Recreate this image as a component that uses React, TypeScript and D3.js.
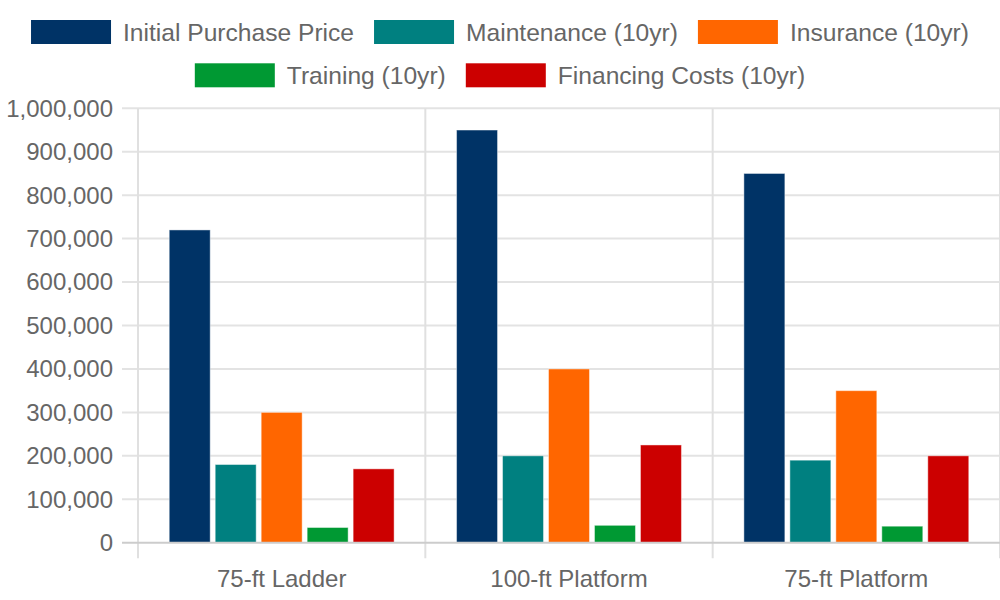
import React from "react";
import * as d3 from "d3";

const categories = ["75-ft Ladder", "100-ft Platform", "75-ft Platform"];
const seriesNames = [
  "Initial Purchase Price",
  "Maintenance (10yr)",
  "Insurance (10yr)",
  "Training (10yr)",
  "Financing Costs (10yr)",
];
const seriesColors = ["#003366", "#008080", "#ff6600", "#009933", "#cc0000"];

const initialPurchase = [720000, 950000, 850000];
const maintenance = [180000, 200000, 190000];
const insurance = [300000, 400000, 350000];
const training = [35000, 40000, 38000];
const financing = [170000, 225000, 200000];

const seriesValues = [initialPurchase, maintenance, insurance, training, financing];
const yTicks = [0, 100000, 200000, 300000, 400000, 500000, 600000, 700000, 800000, 900000, 1000000];
const legendRows = [[0, 1, 2], [3, 4]];

const W = 1000;
const H = 600;
const FONT = "'Liberation Sans', Arial, sans-serif";
const FONT_SIZE = 24;
const LEGEND_FONT_SIZE = 24.6;
const TEXT_COLOR = "#666666";

const margin = { left: 138, right: 0, top: 108.3, bottom: 57.3 };

function measure(text: string, size: number): number {
  const canvas = document.createElement("canvas");
  const ctx = canvas.getContext("2d");
  if (!ctx) return text.length * size * 0.5;
  ctx.font = `${size}px 'Liberation Sans', Arial, sans-serif`;
  return ctx.measureText(text).width;
}

export default function App() {
  const x0 = d3
    .scaleBand<string>()
    .domain(categories)
    .range([margin.left, W - margin.right])
    .paddingInner(0)
    .paddingOuter(0);

  const x1 = d3
    .scaleBand<number>()
    .domain(d3.range(seriesNames.length))
    .range([0, x0.bandwidth()])
    .paddingInner(5 / 46)
    .paddingOuter(0.679);

  const y = d3
    .scaleLinear()
    .domain([0, 1000000])
    .range([H - margin.bottom, margin.top]);

  const fmt = d3.format(",");

  // Legend layout: swatch, gap, label, gap between items; each row centered.
  const swW = 80;
  const swH = 24;
  const swGap = 12;
  const itemGap = 20;
  const rowCenters = [32, 75.3];
  const legendItems: { idx: number; x: number; cy: number }[] = [];
  legendRows.forEach((row, r) => {
    const widths = row.map((i) => swW + swGap + measure(seriesNames[i], LEGEND_FONT_SIZE));
    const total = d3.sum(widths) + itemGap * (row.length - 1);
    let cx = W / 2 - total / 2;
    row.forEach((i, k) => {
      legendItems.push({ idx: i, x: cx, cy: rowCenters[r] });
      cx += widths[k] + itemGap;
    });
  });

  const bottom = y(0);
  const catEdges = [...categories.map((c) => x0(c) as number), W - margin.right];

  return (
    <svg
      width={W}
      height={H}
      style={{ position: "absolute", left: 0, top: 0, display: "block", background: "#fff" }}
      fontFamily={FONT}
    >
      {/* horizontal gridlines with short ticks to the left */}
      {yTicks.map((t) =>
        t === 0 ? null : (
          <line
            key={`g${t}`}
            x1={margin.left - 16}
            x2={W}
            y1={y(t)}
            y2={y(t)}
            stroke="#e3e3e3"
            strokeWidth={2}
          />
        )
      )}
      {/* vertical category separators */}
      {catEdges.map((ex, i) => (
        <line
          key={`v${i}`}
          x1={ex}
          x2={ex}
          y1={y(1000000)}
          y2={bottom + 15.5}
          stroke="#e0e0e0"
          strokeWidth={2}
        />
      ))}
      {/* y tick labels */}
      {yTicks.map((t) => (
        <text
          key={`l${t}`}
          x={113}
          y={y(t)}
          dy="0.35em"
          textAnchor="end"
          fontSize={FONT_SIZE}
          fill={TEXT_COLOR}
        >
          {fmt(t)}
        </text>
      ))}
      {/* bars */}
      {categories.map((c, ci) => (
        <g key={c} transform={`translate(${x0(c)},0)`}>
          {seriesValues.map((vals, si) => (
            <rect
              key={si}
              x={x1(si)}
              y={y(vals[ci])}
              width={x1.bandwidth()}
              height={bottom - y(vals[ci])}
              fill={seriesColors[si]}
              stroke="rgba(255,255,255,0.45)"
              strokeWidth={1}
            />
          ))}
        </g>
      ))}
      {/* baseline */}
      <line
        x1={margin.left - 16}
        x2={W}
        y1={bottom}
        y2={bottom}
        stroke="#cccccc"
        strokeWidth={2}
      />
      {/* category labels */}
      {categories.map((c) => (
        <text
          key={`c${c}`}
          x={(x0(c) as number) + x0.bandwidth() / 2}
          y={587}
          textAnchor="middle"
          fontSize={FONT_SIZE}
          fill={TEXT_COLOR}
        >
          {c}
        </text>
      ))}
      {/* legend */}
      {legendItems.map((it) => (
        <g key={`lg${it.idx}`}>
          <rect
            x={it.x}
            y={it.cy - swH / 2}
            width={swW}
            height={swH}
            fill={seriesColors[it.idx]}
          />
          <text
            x={it.x + swW + swGap}
            y={it.cy}
            dy="0.35em"
            fontSize={LEGEND_FONT_SIZE}
            fill={TEXT_COLOR}
          >
            {seriesNames[it.idx]}
          </text>
        </g>
      ))}
    </svg>
  );
}
